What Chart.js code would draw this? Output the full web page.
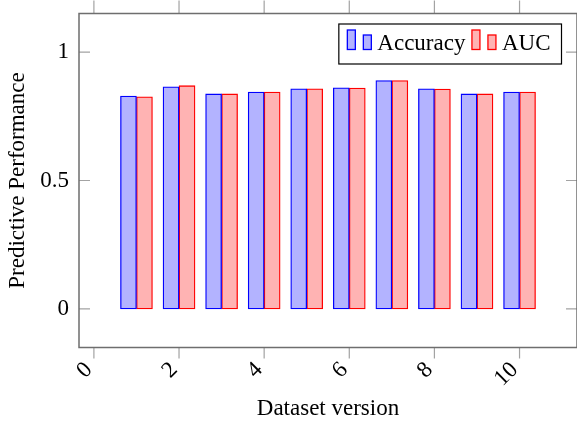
<!DOCTYPE html>
<html>
<head>
<meta charset="utf-8">
<script src="https://cdn.jsdelivr.net/npm/chart.js@4/dist/chart.umd.min.js"></script>
<style>
  html, body { margin: 0; padding: 0; background: #fff; }
  #wrap { width: 577px; height: 423px; }
</style>
</head>
<body>
<div id="wrap"><canvas id="barChart" width="577" height="423"></canvas></div>
<script>
// values
var versions = [1, 2, 3, 4, 5, 6, 7, 8, 9, 10];
var accuracy = [0.829, 0.865, 0.837, 0.844, 0.857, 0.861, 0.889, 0.857, 0.837, 0.844];
var auc = [0.826, 0.869, 0.837, 0.844, 0.857, 0.860, 0.889, 0.856, 0.837, 0.844];
var xTickValues = [0, 2, 4, 6, 8, 10];
var yTickValues = [0, 0.5, 1];

var serif = "'Liberation Serif', 'DejaVu Serif', serif";
var fontSize = 23;

function points(ys) {
    return versions.map(function(v, i) { return {x: v, y: ys[i]}; });
}

// pgfplots style box with ticks on all four sides
var frame = {
    id: 'frame',
    afterDatasetsDraw: function(chart) {
        var ctx = chart.ctx, a = chart.chartArea;
        var xs = chart.scales.x, ys = chart.scales.y;
        ctx.save();
        ctx.strokeStyle = '#a3a3a3';
        ctx.lineWidth = 1.2;
        ctx.beginPath();
        xTickValues.forEach(function(v) {
            var px = xs.getPixelForValue(v);
            ctx.moveTo(px, a.bottom); ctx.lineTo(px, a.bottom + 11);
            ctx.moveTo(px, a.top); ctx.lineTo(px, a.top - 13);
        });
        yTickValues.forEach(function(v) {
            var py = ys.getPixelForValue(v);
            ctx.moveTo(a.left, py); ctx.lineTo(a.left + 11, py);
            ctx.moveTo(a.right, py); ctx.lineTo(a.right - 11, py);
        });
        ctx.stroke();
        ctx.strokeStyle = '#6e6e6e';
        ctx.lineWidth = 1.5;
        ctx.strokeRect(a.left, a.top, a.right - a.left, a.bottom - a.top);
        ctx.restore();
    }
};

// legend drawn like the ybar legend of pgfplots (two small bars per entry)
var barLegend = {
    id: 'barLegend',
    afterDraw: function(chart) {
        var ctx = chart.ctx, a = chart.chartArea;
        var sets = chart.data.datasets;
        ctx.save();
        ctx.font = fontSize + 'px ' + serif;
        var items = sets.map(function(ds) { return {ds: ds, w: ctx.measureText(ds.label).width}; });
        var total = 8;
        items.forEach(function(it) { total += 8 + 8 + 8 + 6 + it.w + 6; });
        total += 6;
        var right = a.right - 15.5, top = a.top + 10.5, h = 40;
        var left = right - total;
        ctx.fillStyle = '#fff';
        ctx.fillRect(left, top, total, h);
        ctx.strokeStyle = '#000';
        ctx.lineWidth = 1.2;
        ctx.strokeRect(left, top, total, h);
        var x = left + 8.5;
        var base = top + 25.5;
        items.forEach(function(it) {
            ctx.lineWidth = 1.3;
            ctx.fillStyle = it.ds.backgroundColor;
            ctx.strokeStyle = it.ds.borderColor;
            ctx.fillRect(x, top + 6, 8, base - top - 6);
            ctx.strokeRect(x, top + 6, 8, base - top - 6);
            x += 16;
            ctx.fillRect(x, top + 11, 8, base - top - 11);
            ctx.strokeRect(x, top + 11, 8, base - top - 11);
            x += 14;
            ctx.fillStyle = '#000';
            ctx.textBaseline = 'alphabetic';
            ctx.fillText(it.ds.label, x, base);
            x += it.w + 6.5;
        });
        ctx.restore();
    }
};

var chartData = {
    datasets: [{
        label: 'Accuracy',
        data: points(accuracy),
        backgroundColor: 'rgb(179,179,255)',
        borderColor: 'rgb(0,0,255)',
        borderWidth: 1.3,
        borderSkipped: false,
        barThickness: 16
    }, {
        label: 'AUC',
        data: points(auc),
        backgroundColor: 'rgb(255,179,179)',
        borderColor: 'rgb(255,0,0)',
        borderWidth: 1.3,
        borderSkipped: false,
        barThickness: 16
    }]
};

var options = {
    responsive: false,
    animation: false,
    layout: {
        padding: {top: 13.5, right: -1, bottom: 0, left: 0}
    },
    plugins: {
        legend: {display: false},
        tooltip: {enabled: false}
    },
    scales: {
        x: {
            type: 'linear',
            offset: false,
            min: -0.35,
            max: 11.35,
            afterFit: function(scale) {
                scale.height = 75.5;
                scale.paddingLeft = 0;
                scale.paddingRight = 0;
            },
            afterBuildTicks: function(scale) {
                scale.ticks = xTickValues.map(function(v) { return {value: v}; });
            },
            grid: {display: false, drawTicks: false, offset: false},
            border: {display: false},
            ticks: {
                minRotation: 45,
                maxRotation: 45,
                padding: 9,
                labelOffset: -5,
                color: '#000',
                font: {family: serif, size: fontSize},
                callback: function(v) { return String(v); }
            },
            title: {
                display: true,
                text: 'Dataset version',
                color: '#000',
                font: {family: serif, size: fontSize},
                padding: {top: 0, bottom: 0}
            }
        },
        y: {
            min: -0.15,
            max: 1.15,
            afterFit: function(scale) {
                scale.width = 79;
                scale.paddingTop = 0;
                scale.paddingBottom = 0;
            },
            afterBuildTicks: function(scale) {
                scale.ticks = yTickValues.map(function(v) { return {value: v}; });
            },
            grid: {display: false, drawTicks: false},
            border: {display: false},
            ticks: {
                padding: 10,
                color: '#000',
                font: {family: serif, size: fontSize},
                callback: function(v) { return String(v); }
            },
            title: {
                display: true,
                text: 'Predictive Performance',
                color: '#000',
                font: {family: serif, size: fontSize},
                padding: {top: 4, bottom: 0}
            }
        }
    }
};

var ctx = document.getElementById('barChart').getContext('2d');
var myChart = new Chart(ctx, {
    type: 'bar',
    data: chartData,
    options: options,
    plugins: [frame, barLegend]
});
</script>
</body>
</html>
